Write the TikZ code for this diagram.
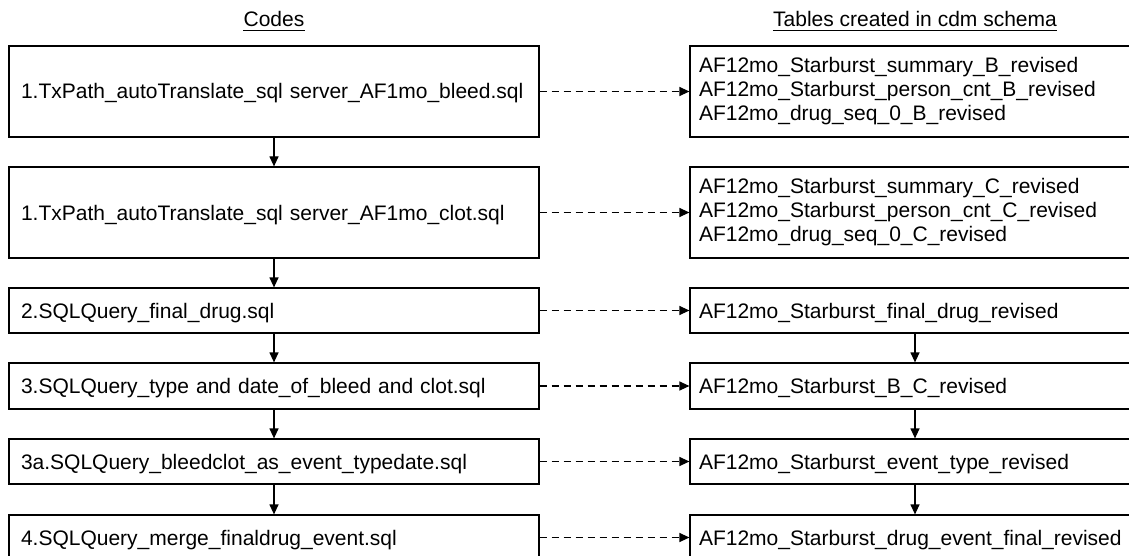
\documentclass[tikz,border=0pt]{standalone}
\usepackage{fontspec}
\setmainfont{Liberation Sans}
\usetikzlibrary{arrows.meta}
\begin{document}
\begin{tikzpicture}[x=1pt,y=-1pt,
  every node/.style={font=\fontsize{21}{24}\selectfont},
  lbox/.style={draw, line width=1.2pt, rectangle, minimum width=530pt, text width=506pt, align=left, inner xsep=12pt, inner ysep=0pt},
  rbox/.style={draw, line width=1.2pt, rectangle, minimum width=450pt, text width=432pt, align=left, inner xsep=9pt, inner ysep=0pt},
  oneline/.style={text height=17pt, text depth=2pt},
  flow/.style={line width=1.2pt, -{Triangle[length=10pt,width=9pt]}},
  dflow/.style={line width=1.2pt, dash pattern=on 7pt off 5pt, -{Triangle[length=10pt,width=9pt]}},
  head/.style={anchor=base, inner sep=0pt}]
\clip (0,0) rectangle (1129,556);
\fill[white] (0,0) rectangle (1129,556);

% headings
\node[head] (hc) at (274,27) {Codes};
\node[head] (ht) at (915,27) {Tables created in cdm schema};
\draw[line width=1pt] ([yshift=-4pt]hc.base west) -- ([yshift=-4pt]hc.base east);
\draw[line width=1pt] ([yshift=-4pt]ht.base west) -- ([yshift=-4pt]ht.base east);

% left column
\node[lbox, oneline, minimum height=91pt] (L1) at (274,91.5) {1.TxPath\_autoTranslate\_sql server\_AF1mo\_bleed.sql};
\node[lbox, oneline, minimum height=91pt] (L2) at (274,212.5) {1.TxPath\_autoTranslate\_sql server\_AF1mo\_clot.sql};
\node[lbox, oneline, minimum height=45pt] (L3) at (274,310.5) {2.SQLQuery\_final\_drug.sql};
\node[lbox, oneline, minimum height=46pt] (L4) at (274,386) {3.SQLQuery\_type and date\_of\_bleed and clot.sql};
\node[lbox, oneline, minimum height=45pt] (L5) at (274,461.5) {3a.SQLQuery\_bleedclot\_as\_event\_typedate.sql};
\node[lbox, oneline, minimum height=45pt] (L6) at (274,537.5) {4.SQLQuery\_merge\_finaldrug\_event.sql};

% right column
\node[rbox, minimum height=91pt] (R1) at (915,91.5) {AF12mo\_Starburst\_summary\_B\_revised\\AF12mo\_Starburst\_person\_cnt\_B\_revised\\AF12mo\_drug\_seq\_0\_B\_revised};
\node[rbox, minimum height=91pt] (R2) at (915,212.5) {AF12mo\_Starburst\_summary\_C\_revised\\AF12mo\_Starburst\_person\_cnt\_C\_revised\\AF12mo\_drug\_seq\_0\_C\_revised};
\node[rbox, oneline, minimum height=45pt] (R3) at (915,310.5) {AF12mo\_Starburst\_final\_drug\_revised};
\node[rbox, oneline, minimum height=46pt] (R4) at (915,386) {AF12mo\_Starburst\_B\_C\_revised};
\node[rbox, oneline, minimum height=45pt] (R5) at (915,461.5) {AF12mo\_Starburst\_event\_type\_revised};
\node[rbox, oneline, minimum height=45pt] (R6) at (915,537.5) {AF12mo\_Starburst\_drug\_event\_final\_revised};

% vertical arrows
\draw[flow] (L1.south) -- (L2.north);
\draw[flow] (L2.south) -- (L3.north);
\draw[flow] (L3.south) -- (L4.north);
\draw[flow] (L4.south) -- (L5.north);
\draw[flow] (L5.south) -- (L6.north);
\draw[flow] (R3.south) -- (R4.north);
\draw[flow] (R4.south) -- (R5.north);
\draw[flow] (R5.south) -- (R6.north);

% dashed arrows
\draw[dflow] (L1.east) -- (R1.west);
\draw[dflow] (L2.east) -- (R2.west);
\draw[dflow] (L3.east) -- (R3.west);
\draw[dflow] (L4.east) -- (R4.west);
\draw[dflow] (L5.east) -- (R5.west);
\draw[dflow] (L6.east) -- (R6.west);
\end{tikzpicture}
\end{document}
